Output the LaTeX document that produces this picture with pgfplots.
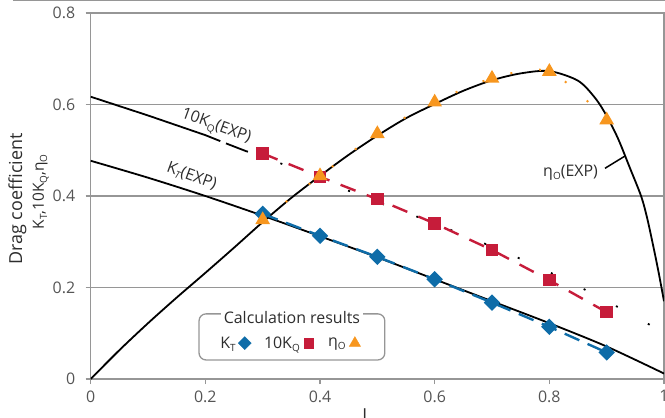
\documentclass[border=0pt]{standalone}
\usepackage{pgfplots}
\pgfplotsset{compat=1.18}
\usepackage{fontspec}
\setmainfont{Open Sans}
\definecolor{kblue}{RGB}{14,108,168}
\definecolor{kred}{RGB}{198,28,58}
\definecolor{korange}{RGB}{247,150,30}
\definecolor{axgray}{RGB}{150,150,150}
\definecolor{labgray}{RGB}{85,85,85}
\definecolor{txtgray}{RGB}{45,45,45}
\newcommand{\sub}[1]{\raisebox{-0.2em}{\fontsize{10}{10}\selectfont #1}}

\begin{document}
\begin{tikzpicture}
\begin{axis}[
  scale only axis, width=573.3bp, height=366bp,
  xmin=0, xmax=1, ymin=0, ymax=0.8,
  clip mode=individual,
  xtick={0,0.2,0.4,0.6,0.8,1}, xticklabels={0,0.2,0.4,0.6,0.8,1},
  ytick={0,0.2,0.4,0.6,0.8}, yticklabels={0,0.2,0.4,0.6,0.8},
  axis line style={draw=axgray, line width=1.3bp},
  ymajorgrids, grid style={axgray, line width=1.3bp},
  tick style={axgray, line width=1.3bp},
  tick align=outside, xtick pos=bottom, ytick pos=left,
  major tick length=5bp,
  tick label style={font=\fontsize{16}{18}\selectfont, text=labgray},
  /pgf/number format/assume math mode=true,
  yticklabel style={xshift=-7bp},
  xticklabel style={yshift=-3bp},
  legend style={at={(rel axis cs:0.348,0.098)}, anchor=center, draw=none, fill=none,
    font=\fontsize{16}{18}\selectfont\color{txtgray}, inner sep=0pt,
    /tikz/every even column/.append style={column sep=10bp}},
  legend columns=3, legend plot pos=right,
  legend image code/.code={\path (0bp,0bp) (14bp,0bp); \draw[#1] plot coordinates {(7bp,0bp)};},
]
% experimental curves
\addplot[black, line width=1.8bp, smooth, forget plot] coordinates {
(0,0.477)(0.1,0.440)(0.2,0.400)(0.3,0.357)(0.4,0.312)(0.5,0.266)(0.6,0.218)(0.7,0.170)(0.8,0.122)(0.9,0.071)(1,0.012)};
\addplot[black, line width=1.8bp, forget plot] coordinates {
(0,0.617)(0.1,0.576)(0.2,0.533)(0.226,0.520)};
\addplot[black, line width=1.8bp, forget plot] coordinates {
(0.236,0.515)(0.271,0.498)};
\addplot[black, line width=1.8bp, dash pattern=on 2bp off 34.5bp, forget plot] coordinates {
(0.271,0.498)(0.3,0.488)(0.362,0.455)(0.41,0.430)(0.47,0.402)(0.528,0.373)(0.589,0.346)(0.645,0.317)(0.703,0.288)(0.762,0.256)(0.821,0.221)(0.880,0.184)(0.939,0.144)(0.997,0.103)};
\addplot[black, line width=1.8bp, smooth, tension=0.5, forget plot] coordinates {
(0,0)(0.05,0.063)(0.1,0.122)(0.15,0.178)(0.2,0.232)(0.25,0.287)(0.3,0.343)(0.35,0.396)(0.4,0.444)(0.45,0.490)(0.5,0.532)(0.55,0.570)(0.6,0.601)(0.65,0.630)(0.7,0.653)(0.75,0.668)(0.8,0.673)(0.85,0.652)(0.88,0.614)(0.9,0.575)(0.92,0.525)(0.94,0.463)(0.96,0.400)(0.97,0.355)(0.98,0.298)(0.99,0.237)(1.0,0.170)};
% calculation results
\addplot[kred, line width=2.4bp, dash pattern=on 16bp off 12bp, forget plot,
  mark=square*, mark size=5bp, mark options={solid, fill=kred, draw=kred}] coordinates {
(0.3,0.493)(0.4,0.442)(0.5,0.393)(0.6,0.340)(0.7,0.282)(0.8,0.216)(0.9,0.146)};
\addplot[kblue, line width=2.4bp, dash pattern=on 16bp off 9bp, forget plot,
  mark=square*, mark size=4.6bp, mark options={solid, rotate=45, fill=kblue, draw=kblue}] coordinates {
(0.3,0.361)(0.4,0.313)(0.5,0.267)(0.6,0.218)(0.7,0.167)(0.8,0.114)(0.9,0.058)};
\addplot[korange, line width=2bp, smooth, dash pattern=on 2bp off 27bp, forget plot,
  mark=triangle*, mark size=6.5bp, mark options={solid, fill=korange, draw=korange}] coordinates {
(0.3,0.348)(0.4,0.444)(0.5,0.536)(0.6,0.605)(0.7,0.657)(0.8,0.672)(0.9,0.566)};
% legend
\addlegendimage{only marks, mark=square*, mark size=4.6bp, mark options={rotate=45}, color=kblue}
\addlegendentry{K\sub{T}}
\addlegendimage{only marks, mark=square*, mark size=4.6bp, color=kred}
\addlegendentry{10K\sub{Q}}
\addlegendimage{only marks, mark=triangle*, mark size=6.5bp, color=korange}
\addlegendentry{η\sub{O}}
\draw[axgray, line width=1.3bp, rounded corners=7bp] (rel axis cs:0.189,0.052) rectangle (rel axis cs:0.513,0.178);
\node[fill=white, inner xsep=3bp, inner ysep=1bp, anchor=base, text=txtgray, font=\fontsize{16}{18}\selectfont] at (rel axis cs:0.351,0.153) {Calculation results};
% curve labels
\node[rotate=-20, text=txtgray, font=\fontsize{16}{18}\selectfont] at (rel axis cs:0.2186,0.689) {10K\sub{Q}(EXP)};
\node[rotate=-20, text=txtgray, font=\fontsize{16}{18}\selectfont] at (rel axis cs:0.176,0.553) {K\sub{\itshape T}(EXP)};
\node[text=txtgray, font=\fontsize{16}{18}\selectfont] at (rel axis cs:0.837,0.563) {η\sub{O}(EXP)};
\draw[black, line width=1.5bp] (axis cs:0.897,0.4605) -- (axis cs:0.932,0.4874);
% axis labels
\node[rotate=90, anchor=base, text=txtgray, font=\fontsize{18}{20}\selectfont] at (rel axis cs:-0.1198,0.4918) {Drag coefficient};
\node[rotate=90, anchor=base, text=txtgray, font=\fontsize{15.5}{17}\selectfont] at (rel axis cs:-0.0815,0.511) {K\sub{T},10K\sub{Q},η\sub{O}};
\node[anchor=north, inner sep=0pt, text=txtgray, font=\fontsize{18}{20}\selectfont] at (rel axis cs:0.478,0) [yshift=-29bp] {J};
\end{axis}
\draw[axgray, line width=1.5bp] (-77.7bp,378.3bp) -- (574.3bp,378.3bp);
\pgfresetboundingbox
\path[use as bounding box] (-90.7bp,-39bp) rectangle (574.3bp,379bp);
\end{tikzpicture}
\end{document}
